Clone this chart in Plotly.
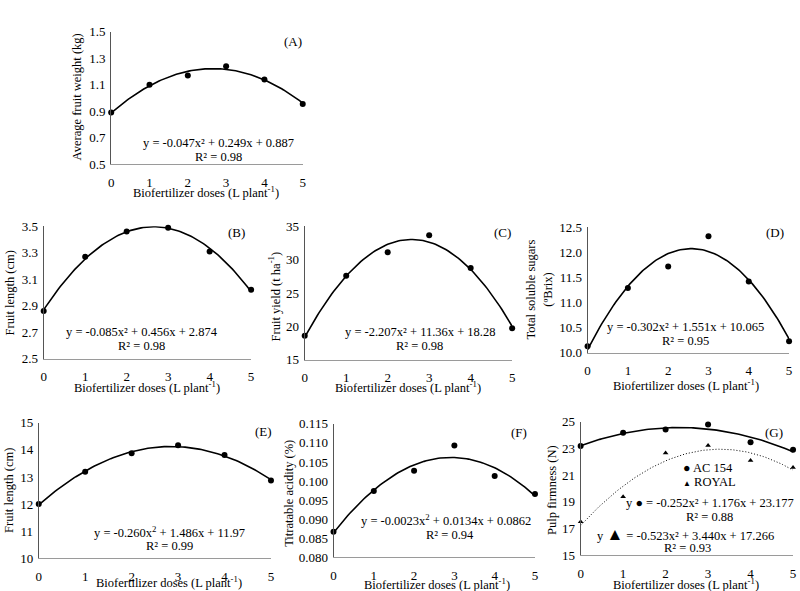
import numpy as np
import plotly.graph_objects as go

doses = [0, 1, 2, 3, 4, 5]
fruit_weight = [0.89, 1.10, 1.17, 1.24, 1.14, 0.955]
fruit_length_b = [2.86, 3.27, 3.46, 3.49, 3.31, 3.02]
fruit_yield = [18.6, 27.6, 31.1, 33.65, 28.75, 19.7]
sugars = [10.13, 11.29, 11.72, 12.32, 11.42, 10.23]
fruit_length_e = [12.0, 13.19, 13.88, 14.17, 13.81, 12.87]
acidity = [0.0867, 0.0974, 0.1027, 0.1093, 0.1013, 0.0966]
firm_ac154 = [23.18, 24.18, 24.43, 24.8, 23.47, 22.9]
firm_royal = [17.5, 19.38, 22.67, 23.23, 22.1, 21.57]

FONT = "Liberation Serif, Times New Roman, serif"
W, H = 800, 591
XT = "Biofertilizer doses (L plant<sup>-1</sup>)"
TS = 12.5  # annotation text size

# panel geometry in pixels: x0, x1, y0(top), y1(bottom)
panels = [
    dict(box=(109, 302, 33, 165), data=[fruit_weight], yr=(0.5, 1.5), dt=0.2, fmt=".1f",
         ytitle="Average fruit weight (kg)", ytpos=(75, 98), xtpos=(205, 193),
         lab="(A)", labpos=(292, 43),
         eqs=[("y = -0.047x² + 0.249x + 0.887", 217, 144, "center"), ("R² = 0.98", 217, 158, "center")]),
    dict(box=(41, 250, 227, 359), data=[fruit_length_b], yr=(2.5, 3.5), dt=0.2, fmt=".1f",
         ytitle="Fruit length (cm)", ytpos=(8, 293), xtpos=(145, 387),
         lab="(B)", labpos=(235, 233),
         eqs=[("y = -0.085x² + 0.456x + 2.874", 140, 332, "center"), ("R² = 0.98", 140, 346, "center")]),
    dict(box=(304, 513, 227, 360), data=[fruit_yield], yr=(15, 35), dt=5, fmt="d",
         ytitle="Fruit yield (t ha<sup>-1</sup>)", ytpos=(273, 297), xtpos=(408, 387),
         lab="(C)", labpos=(503, 233),
         eqs=[("y = -2.207x² + 11.36x + 18.28", 420, 332, "center"), ("R² = 0.98", 420, 346, "center")]),
    dict(box=(589, 792, 228, 353), data=[sugars], yr=(10.0, 12.5), dt=0.5, fmt=".1f",
         ytitle="Total soluble sugars<br>(ºBrix)", ytpos=(541, 290), xtpos=(688, 385),
         lab="(D)", labpos=(778, 233),
         eqs=[("y = -0.302x² + 1.551x + 10.065", 688, 327, "center"), ("R² = 0.95", 688, 341, "center")]),
    dict(box=(36, 270, 423, 558), data=[fruit_length_e], yr=(10, 15), dt=1, fmt="d",
         ytitle="Fruit length (cm)", ytpos=(6, 490), xtpos=(167, 582),
         lab="(E)", labpos=(262, 432),
         eqs=[("y = -0.260x<sup>2</sup> + 1.486x + 11.97", 168, 532, "center"), ("R² = 0.99", 168, 546, "center")]),
    dict(box=(333, 536, 424, 557), data=[acidity], yr=(0.080, 0.115), dt=0.005, fmt=".3f",
         ytitle="Titratable acidity (%)", ytpos=(288, 493), xtpos=(437, 584),
         lab="(F)", labpos=(520, 433),
         eqs=[("y = -0.0023x<sup>2</sup> + 0.0134x + 0.0862", 446, 520, "center"), ("R² = 0.94", 450, 535, "center")]),
    dict(box=(582, 796, 422, 555), data=[firm_ac154, firm_royal], yr=(15, 25), dt=2, fmt="d",
         ytitle="Pulp firmness (N)", ytpos=(553, 490), xtpos=(688, 584),
         lab="(G)", labpos=(777, 433),
         eqs=[("y ● = -0.252x² + 1.176x + 23.177", 799, 503, "right"), ("R² = 0.88", 712, 517, "center"),
              ("y <span style='font-size:17px'>▲</span> = -0.523x² + 3.440x + 17.266", 688, 534, "center"),
              ("R² = 0.93", 690, 548, "center"),
              ("● AC 154", 683, 468, "left"),
              ("<span style='font-size:8px'>▲</span> ROYAL", 683, 482, "left")]),
]

# vertical pixel correction (renderer compresses vertically about the centre)
C, K = 295.5, 0.972


def vy(y):
    return 1 - (C + (y - C) / K) / H


fig = go.Figure()
annotations = []
layout = {}
xs = np.linspace(0, 5, 101)


def ann(text, px, py, size=TS, angle=0, xanchor="center"):
    annotations.append(dict(text=text, x=px / W, y=vy(py), xref="paper", yref="paper",
                            showarrow=False, textangle=angle, xanchor=xanchor, yanchor="middle",
                            font=dict(family=FONT, size=size, color="black")))


for i, p in enumerate(panels, start=1):
    x0, x1, y0, y1 = p["box"]
    xa = "x" if i == 1 else f"x{i}"
    ya = "y" if i == 1 else f"y{i}"
    for k, series in enumerate(p["data"]):
        coef = np.polyfit(doses, series, 2)
        dotted = (i == 7 and k == 1)
        fig.add_trace(go.Scatter(x=xs, y=np.polyval(coef, xs), mode="lines", xaxis=xa, yaxis=ya,
                                 line=dict(color="black", width=1 if dotted else 1.6,
                                           dash="1px,2px" if dotted else "solid"),
                                 hoverinfo="skip", showlegend=False, cliponaxis=False))
        fig.add_trace(go.Scatter(x=doses, y=series, mode="markers", xaxis=xa, yaxis=ya,
                                 marker=dict(color="black", size=5 if dotted else 6,
                                             symbol="triangle-up" if dotted else "circle"),
                                 showlegend=False, cliponaxis=False))
    common = dict(showgrid=False, zeroline=False, ticks="", showline=True,
                  tickfont=dict(family=FONT, size=13, color="black"))
    layout["xaxis" if i == 1 else f"xaxis{i}"] = dict(
        domain=[x0 / W, x1 / W], anchor=ya, range=[0, 5], dtick=1, tick0=0,
        linecolor="#9a9a9a", linewidth=1.3, ticklabelstandoff=6, **common)
    layout["yaxis" if i == 1 else f"yaxis{i}"] = dict(
        domain=[vy(y1), vy(y0)], anchor=xa, range=list(p["yr"]), dtick=p["dt"],
        tick0=p["yr"][0], tickformat=p["fmt"], linecolor="#555555", linewidth=1,
        ticklabelstandoff=2, **common)

    ann(p["ytitle"], *p["ytpos"], angle=-90)
    ann(XT, *p["xtpos"])
    ann(p["lab"], *p["labpos"], size=13)
    for t, ex, ey, anc in p["eqs"]:
        ann(t, ex, ey, xanchor=anc)

fig.update_layout(width=W, height=H, autosize=False, margin=dict(l=0, r=0, t=0, b=0),
                  paper_bgcolor="white", plot_bgcolor="white",
                  annotations=annotations, **layout)
fig.write_html("out.html", config={"responsive": False, "displayModeBar": False},
               post_script="document.body.style.margin='0';document.body.style.overflow='hidden';")
